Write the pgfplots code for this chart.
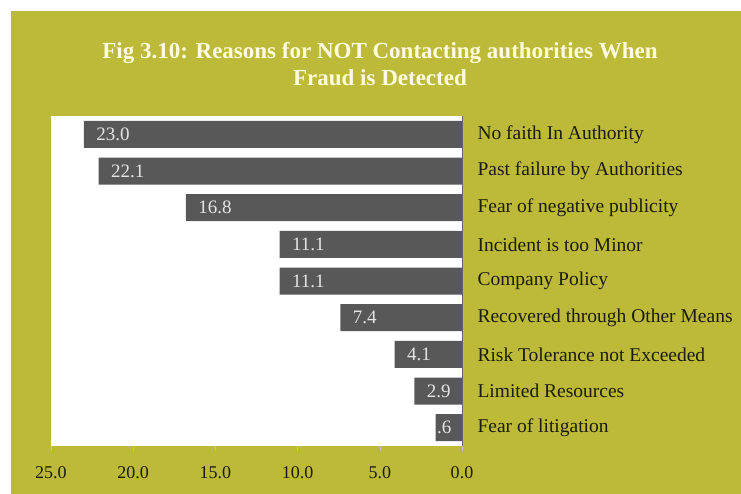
\documentclass[border=0pt]{standalone}
\usepackage{pgfplots}
\pgfplotsset{compat=1.18}
\usepackage{pgfplotstable}
\usepackage{fontspec}
\setmainfont{Liberation Serif}

\definecolor{olivebg}{RGB}{189,186,58}
\definecolor{bardark}{RGB}{88,88,88}
\definecolor{titlecream}{RGB}{255,252,222}
\definecolor{labeldark}{RGB}{28,28,12}
\definecolor{barlabel}{RGB}{228,228,228}

% values in percent, top reason first; last column is the printed label
\pgfplotstableread{
idx val lab
0 23.0 23.0
1 22.1 22.1
2 16.8 16.8
3 11.1 11.1
4 11.1 11.1
5 7.4 7.4
6 4.1 4.1
7 2.9 2.9
8 1.6 \hspace{-11pt}.6
}\reasons

\begin{document}
\begin{tikzpicture}[x=1pt,y=1pt]
\path (0,0) rectangle (741,494);
\fill[olivebg] (11,0) rectangle (741,483);
\node[font=\bfseries\fontsize{23}{27}\selectfont, text=titlecream, align=center]
  at (380,430) {Fig 3.10: Reasons for NOT Contacting authorities When\\Fraud is Detected};
\begin{axis}[
    at={(51pt,48pt)}, anchor=south west,
    scale only axis, width=411pt, height=330pt,
    xbar, bar width=27pt,
    x dir=reverse, y dir=reverse,
    xmin=0, xmax=25, ymin=-0.5, ymax=8.5,
    axis background/.style={fill=white},
    axis line style={draw=none},
    xtick={0,5,10,15,20,25},
    xticklabel style={/pgf/number format/fixed, /pgf/number format/fixed zerofill,
        /pgf/number format/precision=1, /pgf/number format/assume math mode=true},
    x tick label style={font=\fontsize{18}{18}\selectfont, text=labeldark, yshift=-12pt},
    tick pos=bottom,
    major tick length=5pt,
    x tick style={draw=black!25},
    tick align=outside,
    ytick={0,1,2,3,4,5,6,7,8},
    yticklabels={No faith In Authority, Past failure by Authorities,
        Fear of negative publicity, Incident is too Minor, Company Policy,
        Recovered through Other Means, Risk Tolerance not Exceeded,
        Limited Resources, Fear of litigation},
    yticklabel pos=right,
    y tick style={draw=none},
    y tick label style={font=\fontsize{19.5}{19.5}\selectfont, text=labeldark, anchor=west, xshift=7pt},
    nodes near coords,
    point meta=explicit symbolic,
    every node near coord/.append style={anchor=west, xshift=9pt,
        font=\fontsize{19}{19}\selectfont, text=barlabel},
    clip=false,
]
\addplot[fill=bardark, draw=none] table[x=val, y=idx, meta=lab] {\reasons};
\draw[black!60] (axis cs:0,-0.5) -- (axis cs:0,8.5);
\end{axis}
\end{tikzpicture}
\end{document}
